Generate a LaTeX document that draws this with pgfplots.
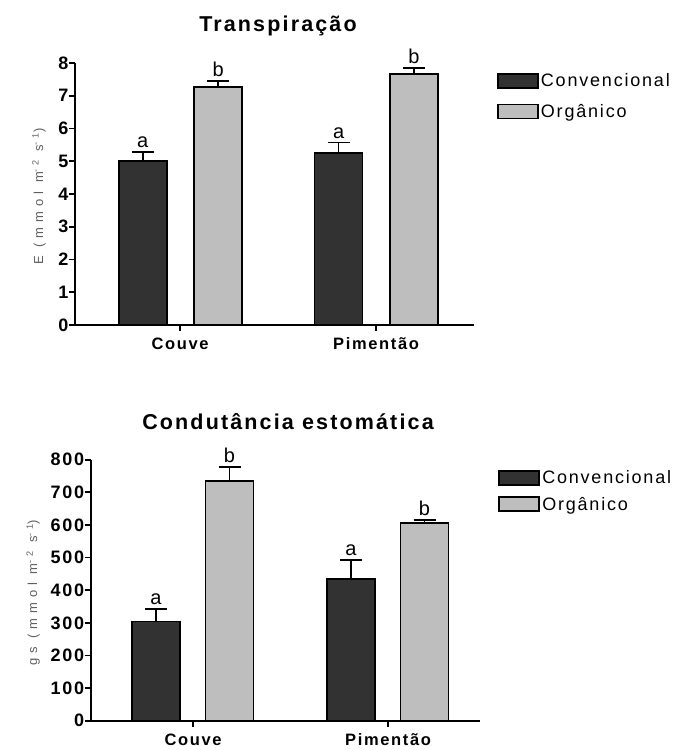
\documentclass[border=0pt]{standalone}
\usepackage{fontspec}
\setmainfont{Liberation Sans}[LetterSpace=10]
\newfontfamily\labfont{Liberation Sans}[LetterSpace=38]
\usepackage{pgfplots}
\usepackage{pgfplotstable}
\pgfplotsset{compat=1.18}
\definecolor{darkbar}{RGB}{50,50,50}
\definecolor{lightbar}{RGB}{190,190,190}
\definecolor{labgray}{RGB}{95,95,95}

% x = category (1 Couve, 2 Pimentao) shifted to the bar centre
\pgfplotstableread{
x y e
0.809 5.01 0.27
1.809 5.24 0.33
}\convA
\pgfplotstableread{
x y e
1.194 7.26 0.19
2.194 7.66 0.18
}\orgA
\pgfplotstableread{
x y e
0.81 304 38
1.81 434 58
}\convB
\pgfplotstableread{
x y e
1.187 735 42
2.187 605 10
}\orgB

\tikzset{letter/.style={anchor=south, font=\fontsize{20}{20}\selectfont, inner sep=1pt, yshift=3pt}}

\pgfplotsset{
 mystyle/.style={
  scale only axis, clip=false,
  axis x line=bottom, axis y line=left,
  axis line style={-, line width=1.8pt},
  tick style={line width=1.8pt, black},
  tick align=outside,
  major tick length=6pt,
  xtick={1,2}, xticklabels={Couve,Pimentão},
  xticklabel style={font=\fontsize{16.5}{16.5}\selectfont\bfseries, text height=13pt, text depth=3pt, yshift=-2pt},
  yticklabel style={font=\fontsize{18}{18}\selectfont\bfseries, xshift=3pt},
  /pgf/number format/assume math mode=true,
  ymin=0, enlargelimits=false,
  legend style={draw=none, fill=none, anchor=north west, font=\fontsize{18}{18}\selectfont, legend cell align=left},
  ylabel style={font=\labfont\fontsize{13}{13}\selectfont, color=labgray, anchor=center},
 },
 barA/.style={ybar, bar width=48pt, bar shift=0pt, fill=darkbar, draw=black, line width=1.8pt,
   legend image code/.code={\draw[fill=darkbar, draw=black, line width=1.8pt] (0pt,-7pt) rectangle (40pt,7pt);},
   error bars/.cd, y dir=plus, y explicit,
   error bar style={line width=1.8pt, black},
   error mark options={rotate=90, mark size=11pt, line width=1.8pt, black}},
 barB/.style={ybar, bar width=48pt, bar shift=0pt, fill=lightbar, draw=black, line width=1.8pt,
   legend image code/.code={\draw[fill=lightbar, draw=black, line width=1.8pt] (0pt,-7pt) rectangle (40pt,7pt);},
   error bars/.cd, y dir=plus, y explicit,
   error bar style={line width=1.8pt, black},
   error mark options={rotate=90, mark size=11pt, line width=1.8pt, black}},
}

\begin{document}
\begin{tikzpicture}
\useasboundingbox (0pt,0pt) rectangle (684pt,750pt);

\node[font=\fontsize{21.5}{21.5}\selectfont\bfseries] at (278pt,724pt) {Transpiração};
\node[font=\fontsize{21.5}{21.5}\selectfont\bfseries] at (288pt,328pt) {Condutância estomática};

\begin{axis}[mystyle,
  at={(75pt,425pt)}, anchor=south west,
  width=399pt, height=262pt,
  xmin=0.464, xmax=2.5, ymax=8,
  ytick={0,1,...,8},
  ylabel={E (mmol m\textsuperscript{-2} s\textsuperscript{-1})},
  ylabel style={at={(axis description cs:-0.09,0.49)}},
  legend style={at={(1.05,0.975)}, row sep=12pt},
]
\addplot[barA] table[x=x, y=y, y error=e] {\convA};
\addlegendentry{Convencional}
\addplot[barB] table[x=x, y=y, y error=e] {\orgA};
\addlegendentry{Orgânico}
\node[letter] at (axis cs:0.809,5.28) {a};
\node[letter] at (axis cs:1.194,7.45) {b};
\node[letter] at (axis cs:1.809,5.57) {a};
\node[letter] at (axis cs:2.194,7.84) {b};
\end{axis}

\begin{axis}[mystyle,
  at={(90.7pt,29.3pt)}, anchor=south west,
  width=389pt, height=261pt,
  xmin=0.475, xmax=2.47, ymax=800,
  ytick={0,100,...,800},
  ylabel={gs (mmol m\textsuperscript{-2} s\textsuperscript{-1})},
  ylabel style={at={(axis description cs:-0.148,0.49)}},
  legend style={at={(1.04,0.975)}, row sep=8pt},
]
\addplot[barA] table[x=x, y=y, y error=e] {\convB};
\addlegendentry{Convencional}
\addplot[barB] table[x=x, y=y, y error=e] {\orgB};
\addlegendentry{Orgânico}
\node[letter] at (axis cs:0.81,342) {a};
\node[letter] at (axis cs:1.187,777) {b};
\node[letter] at (axis cs:1.81,492) {a};
\node[letter] at (axis cs:2.187,615) {b};
\end{axis}
\end{tikzpicture}
\end{document}
